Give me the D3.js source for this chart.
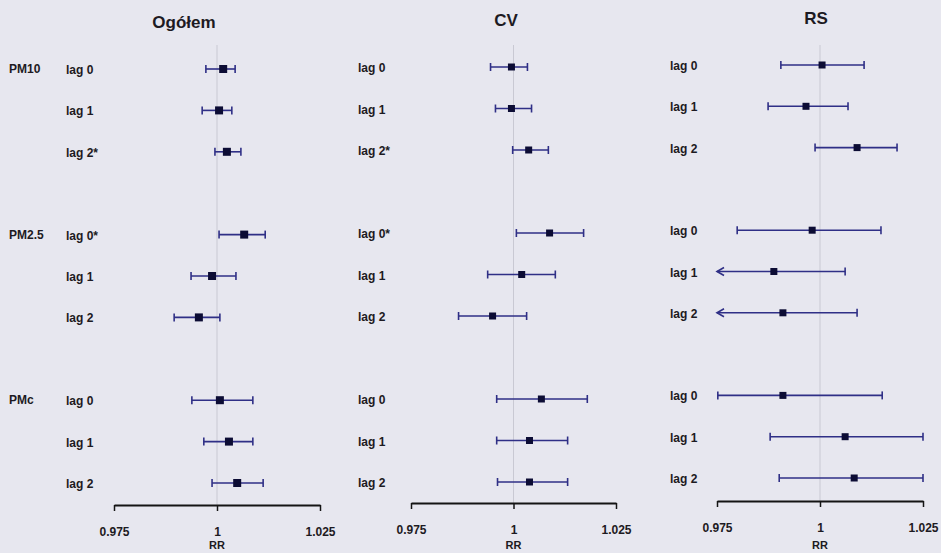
<!DOCTYPE html>
<html>
<head>
<meta charset="utf-8">
<script src="https://cdn.jsdelivr.net/npm/d3@7"></script>
<style>
  html, body { margin: 0; padding: 0; background: #e7e7ef; }
  svg { display: block; }
  text { font-family: "Liberation Sans", Arial, sans-serif; fill: #1d1a22; }
</style>
</head>
<body>
<svg id="chart" width="941" height="553"></svg>
<script>
// Pollutants and lags (rows of each panel)
const pollutants = ["PM10", "PM2.5", "PMc"];
const panelTitles = ["Ogółem", "CV", "RS"];
const labelsOgolem = [["lag 0", "lag 1", "lag 2*"], ["lag 0*", "lag 1", "lag 2"], ["lag 0", "lag 1", "lag 2"]];
const labelsCV = [["lag 0", "lag 1", "lag 2*"], ["lag 0*", "lag 1", "lag 2"], ["lag 0", "lag 1", "lag 2"]];
const labelsRS = [["lag 0", "lag 1", "lag 2"], ["lag 0", "lag 1", "lag 2"], ["lag 0", "lag 1", "lag 2"]];

// Relative risk estimates [PM10 lag0..2, PM2.5 lag0..2, PMc lag0..2]
const rrOgolem = [1.0015, 1.0005, 1.0024, 1.0066, 0.9988, 0.9956, 1.0007, 1.0029, 1.0049];
const loOgolem = [0.9973, 0.9964, 0.9995, 1.0005, 0.9937, 0.9896, 0.9939, 0.9968, 0.9988];
const hiOgolem = [1.0044, 1.0036, 1.0058, 1.0117, 1.0046, 1.0007, 1.0087, 1.0087, 1.0112];

const rrCV = [0.9995, 0.9995, 1.0037, 1.0088, 1.0020, 0.9949, 1.0068, 1.0039, 1.0039];
const loCV = [0.9944, 0.9956, 0.9998, 1.0007, 0.9937, 0.9866, 0.9959, 0.9959, 0.9961];
const hiCV = [1.0034, 1.0044, 1.0085, 1.0171, 1.0102, 1.0032, 1.0180, 1.0132, 1.0132];

const rrRS = [1.0005, 0.9966, 1.0090, 0.9981, 0.9888, 0.9910, 0.9910, 1.0061, 1.0083];
const loRS = [0.9905, 0.9874, 0.9988, 0.9799, 0.9700, 0.9700, 0.9752, 0.9879, 0.9901];
const hiRS = [1.0107, 1.0068, 1.0187, 1.0148, 1.0061, 1.0090, 1.0151, 1.0250, 1.0250];

const tickValues = [0.975, 1, 1.025];
const tickLabels = ["0.975", "1", "1.025"];
const axisTitle = "RR";

const panels = [
  { title: panelTitles[0], labels: labelsOgolem, rr: rrOgolem, lo: loOgolem, hi: hiOgolem, x0: 114, x1: 320, yTop: 69, yBot: 483, axisY: 505, labelX: 66, titleX: 184, titleY: 28, showPollutant: true, mark: 8 },
  { title: panelTitles[1], labels: labelsCV, rr: rrCV, lo: loCV, hi: hiCV, x0: 411, x1: 616, yTop: 67, yBot: 482, axisY: 503, labelX: 358, titleX: 506, titleY: 26, showPollutant: false, mark: 7 },
  { title: panelTitles[2], labels: labelsRS, rr: rrRS, lo: loRS, hi: hiRS, x0: 717, x1: 923, yTop: 65, yBot: 478, axisY: 501, labelX: 670, titleX: 816, titleY: 24, showPollutant: false, mark: 7 }
];

const svg = d3.select("#chart");
const domain = [0.975, 1.025];
const rowSlot = [0, 1, 2, 4, 5, 6, 8, 9, 10];

panels.forEach((p) => {
  const x = d3.scaleLinear().domain(domain).range([p.x0, p.x1]);
  const y = d3.scaleLinear().domain([0, 10]).range([p.yTop, p.yBot]);
  const g = svg.append("g");

  // title
  g.append("text")
    .attr("x", p.titleX).attr("y", p.titleY)
    .attr("text-anchor", "middle")
    .style("font-size", "17px").style("font-weight", "bold")
    .text(p.title);

  // reference line at RR = 1
  g.append("line")
    .attr("x1", x(1)).attr("x2", x(1))
    .attr("y1", 45).attr("y2", p.axisY)
    .attr("stroke", "#c9c9d3").attr("stroke-width", 1);

  // row labels
  pollutants.forEach((pol, gi) => {
    if (p.showPollutant) {
      g.append("text")
        .attr("x", 9).attr("y", y(gi * 4) + 4)
        .style("font-size", "12px").style("font-weight", "bold")
        .attr("fill", "#2a2430")
        .text(pol);
    }
    p.labels[gi].forEach((lab, li) => {
      g.append("text")
        .attr("x", p.labelX).attr("y", y(gi * 4 + li) + 5)
        .style("font-size", "12px").style("font-weight", "bold")
        .text(lab);
    });
  });

  // confidence intervals and point estimates
  const lineColor = "#2f2f86";
  p.rr.forEach((v, i) => {
    const yy = y(rowSlot[i]);
    const loC = Math.max(p.lo[i], domain[0]);
    const hiC = Math.min(p.hi[i], domain[1]);
    const xl = x(loC), xh = x(hiC);
    g.append("line")
      .attr("x1", xl).attr("x2", xh).attr("y1", yy).attr("y2", yy)
      .attr("stroke", lineColor).attr("stroke-width", 1.6);
    if (p.lo[i] < domain[0]) {
      g.append("path")
        .attr("d", `M${xl + 7},${yy - 4} L${xl},${yy} L${xl + 7},${yy + 4}`)
        .attr("fill", "none").attr("stroke", lineColor).attr("stroke-width", 1.6);
    } else {
      g.append("line")
        .attr("x1", xl).attr("x2", xl).attr("y1", yy - 4).attr("y2", yy + 4)
        .attr("stroke", lineColor).attr("stroke-width", 1.6);
    }
    if (p.hi[i] > domain[1]) {
      g.append("path")
        .attr("d", `M${xh - 7},${yy - 4} L${xh},${yy} L${xh - 7},${yy + 4}`)
        .attr("fill", "none").attr("stroke", lineColor).attr("stroke-width", 1.6);
    } else {
      g.append("line")
        .attr("x1", xh).attr("x2", xh).attr("y1", yy - 4).attr("y2", yy + 4)
        .attr("stroke", lineColor).attr("stroke-width", 1.6);
    }
    g.append("rect")
      .attr("x", x(v) - p.mark / 2).attr("y", yy - p.mark / 2)
      .attr("width", p.mark).attr("height", p.mark)
      .attr("fill", "#0c0c34");
  });

  // x axis
  const axis = d3.axisBottom(x)
    .tickValues(tickValues)
    .tickFormat((d, i) => tickLabels[i])
    .tickSize(6).tickSizeOuter(0).tickPadding(16);
  const ag = g.append("g").attr("transform", `translate(0,${p.axisY})`).call(axis);
  ag.select(".domain").attr("stroke", "#141414").attr("stroke-width", 2);
  ag.selectAll(".tick line").attr("stroke", "#141414").attr("stroke-width", 1.5);
  ag.selectAll(".tick text")
    .style("font-size", "12px").style("font-weight", "bold")
    .style("font-family", "'Liberation Sans', Arial, sans-serif")
    .attr("fill", "#1d1a22");

  g.append("text")
    .attr("x", x(1)).attr("y", 549)
    .attr("text-anchor", "middle")
    .style("font-size", "11px").style("font-weight", "bold")
    .text(axisTitle);
});
</script>
</body>
</html>
